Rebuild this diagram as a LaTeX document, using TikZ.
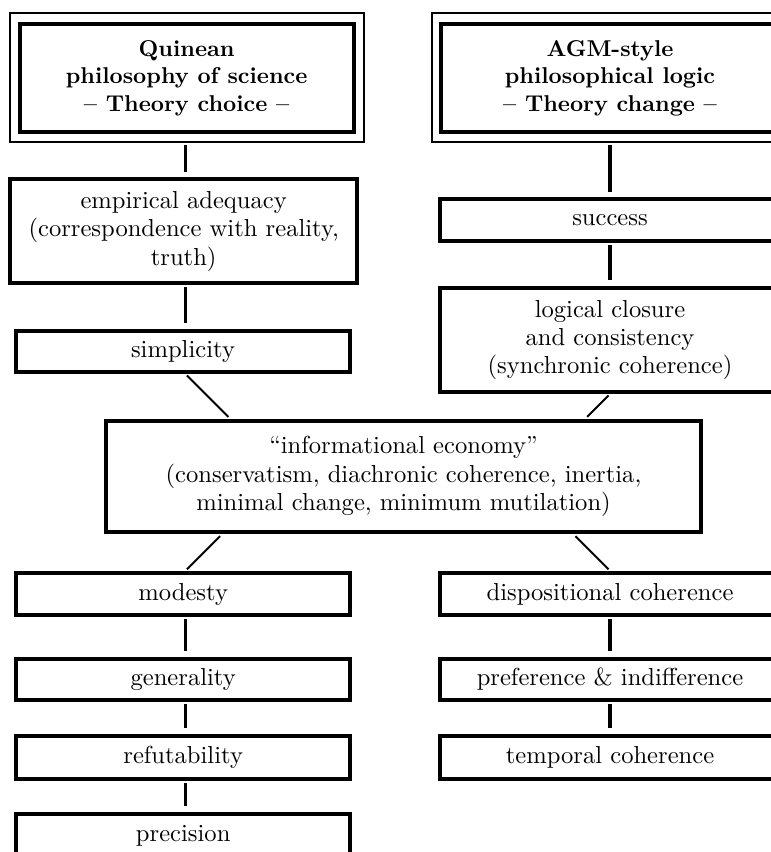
\documentclass[tikz,border=0pt]{standalone}
\usetikzlibrary{calc}
\newdimen\pxu \pxu=0.415pt
\begin{document}
\begin{tikzpicture}[x=0.415pt,y=-0.415pt,
  box/.style={draw,line width=4\pxu,inner sep=0pt,align=center,
    font=\fontsize{10.2}{11.8}\selectfont},
  titlebox/.style={box,font=\fontsize{9.5}{11.4}\selectfont\bfseries,
    minimum height=108.2\pxu},
  lbox/.style={box,minimum width=333.7\pxu,minimum height=42.6\pxu},
  rbox/.style={box,minimum width=339.4\pxu,minimum height=42.6\pxu},
  conn/.style={line width=3.6\pxu,shorten <=2\pxu,shorten >=6\pxu},
  tconn/.style={line width=3.6\pxu,shorten <=11\pxu,shorten >=5\pxu},
  diag/.style={line width=2\pxu,shorten <=2\pxu,shorten >=3\pxu},
  frame/.style={line width=2\pxu}]
\useasboundingbox (0,0) rectangle (771,852);
\clip (0,0) rectangle (771,852);

% column axes
\coordinate (lc) at (185.5,0);
\coordinate (rc) at (610,0);

% left column
\node[titlebox,minimum width=334.2\pxu] (Q) at (186.6,77.9)
  {Quinean\\ philosophy of science\\ -- Theory choice --};
\node[box,minimum width=346.7\pxu,minimum height=103.7\pxu] (emp) at (183.7,231.2)
  {empirical adequacy\\ (correspondence with reality,\\ truth)};
\node[box,minimum width=333.4\pxu,minimum height=40.7\pxu] (simp) at (183,351.7) {simplicity};
\node[lbox] (mod) at (183.2,594) {modesty};
\node[lbox,minimum height=41.6\pxu] (gen) at (183.2,679.5) {generality};
\node[lbox,minimum height=43\pxu] (ref) at (183.2,757.8) {refutability};
\node[lbox] (prec) at (183.2,835.6) {precision};

% right column
\node[titlebox,minimum width=337.4\pxu] (A) at (610,77.9)
  {AGM-style\\ philosophical logic\\ -- Theory change --};
\node[rbox] (succ) at (610,220) {success};
\node[rbox,minimum height=104\pxu] (log) at (610,340)
  {logical closure\\ and consistency\\ (synchronic coherence)};
\node[rbox] (disp) at (610,594) {dispositional coherence};
\node[rbox,minimum height=41.6\pxu] (pref) at (610,679.5) {preference \& indifference};
\node[rbox,minimum height=43\pxu] (temp) at (610,757.8) {temporal coherence};

% centre
\node[box,minimum width=595\pxu,minimum height=111\pxu] (info) at (403.5,476.5)
  {``informational economy''\\ (conservatism, diachronic coherence, inertia,\\ minimal change, minimum mutilation)};

% outer frames of the title boxes
\draw[frame] ($(Q.north west)+(-8,-9)$) rectangle ($(Q.south east)+(8,8)$);
\draw[frame] ($(A.north west)+(-7,-9)$) rectangle ($(A.south east)+(7,8)$);

% vertical connectors
\draw[tconn] (Q.south -| lc) -- (emp.north -| lc);
\draw[conn] (emp.south -| lc) -- (simp.north -| lc);
\draw[conn] (mod.south -| lc) -- (gen.north -| lc);
\draw[conn] (gen.south -| lc) -- (ref.north -| lc);
\draw[conn] (ref.south -| lc) -- (prec.north -| lc);
\draw[tconn] (A.south -| rc) -- (succ.north -| rc);
\draw[conn] (succ.south -| rc) -- (log.north -| rc);
\draw[conn] (disp.south -| rc) -- (pref.north -| rc);
\draw[conn] (pref.south -| rc) -- (temp.north -| rc);

% diagonal connectors to and from the centre box
\coordinate (d1) at (simp.south -| lc);
\coordinate (d1b) at ($(d1)+(10,10)$);
\draw[diag] (d1) -- (intersection of d1--d1b and info.north west--info.north east);
\coordinate (d2) at (log.south -| rc);
\coordinate (d2b) at ($(d2)+(-10,10)$);
\draw[diag] (d2) -- (intersection of d2--d2b and info.north west--info.north east);
\coordinate (d3) at (mod.north -| lc);
\coordinate (d3b) at ($(d3)+(10,-10)$);
\draw[diag] (d3) -- (intersection of d3--d3b and info.south west--info.south east);
\coordinate (d4) at (disp.north -| rc);
\coordinate (d4b) at ($(d4)+(-10,-10)$);
\draw[diag] (d4) -- (intersection of d4--d4b and info.south west--info.south east);
\end{tikzpicture}
\end{document}
